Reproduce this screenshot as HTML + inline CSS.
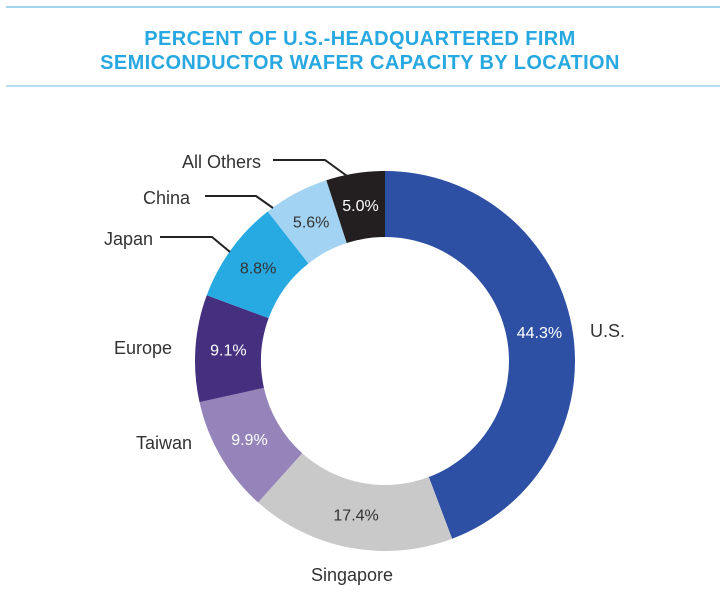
<!DOCTYPE html>
<html><head><meta charset="utf-8"><style>
body{margin:0;background:#fff;width:726px;height:600px;overflow:hidden;font-family:"Liberation Sans",sans-serif}
</style></head><body>
<svg width="726" height="600">
<line x1="6" y1="7" x2="720" y2="7" stroke="#6ab8e6" stroke-width="1.2"/>
<line x1="6" y1="86" x2="720" y2="86" stroke="#9fd3f2" stroke-width="1.5"/>
<text x="360" y="45" text-anchor="middle" font-size="20" font-weight="bold" fill="#27a8e0" letter-spacing="0.4">PERCENT OF U.S.-HEADQUARTERED FIRM</text>
<text x="360" y="69" text-anchor="middle" font-size="20" font-weight="bold" fill="#27a8e0" letter-spacing="0.4">SEMICONDUCTOR WAFER CAPACITY BY LOCATION</text>
<g id="slices"></g>
<g id="leaders" fill="none" stroke="#222" stroke-width="2">
<polyline points="273,160 325,160 347,176"/>
<polyline points="205,196 256,196 273,208"/>
<polyline points="160,237 212,237 230,252"/>
</g>
</svg>
<script>
const categories=["U.S.","Singapore","Taiwan","Europe","Japan","China","All Others"];
const values=[44.3,17.4,9.9,9.1,8.8,5.6,5.0];
const valueLabels=["44.3%","17.4%","9.9%","9.1%","8.8%","5.6%","5.0%"];
const colors=["#2e50a4","#c9c9ca","#9484b9","#45307f","#27a9e1","#a2d3f2","#231f20"];
const textColors=["#fff","#333","#fff","#fff","#333","#333","#fff"];
const outerLabels=[[590,337,"start"],[352,581,"middle"],[192,449,"end"],[172,354,"end"],[153,245,"end"],[190,204,"end"],[261,168,"end"]];
const cx=385,cy=361,R=190,r=124;
const svg=document.querySelector('svg'),g=document.getElementById('slices');
const NS="http://www.w3.org/2000/svg";
const total=values.reduce((a,b)=>a+b,0);
function pt(a,rad){return [cx+rad*Math.sin(a),cy-rad*Math.cos(a)];}
let acc=0;
values.forEach((v,i)=>{
 const a0=acc/total*2*Math.PI;acc+=v;const a1=acc/total*2*Math.PI;
 const lg=(a1-a0)>Math.PI?1:0;
 const [x0,y0]=pt(a0,R),[x1,y1]=pt(a1,R),[x2,y2]=pt(a1,r),[x3,y3]=pt(a0,r);
 const p=document.createElementNS(NS,'path');
 p.setAttribute('d',`M${x0},${y0}A${R},${R} 0 ${lg} 1 ${x1},${y1}L${x2},${y2}A${r},${r} 0 ${lg} 0 ${x3},${y3}Z`);
 p.setAttribute('fill',colors[i]);
 
 
 g.appendChild(p);
 const [tx,ty]=pt((a0+a1)/2,(R+r)/2);
 const t=document.createElementNS(NS,'text');
 t.setAttribute('x',tx);t.setAttribute('y',ty+5);t.setAttribute('text-anchor','middle');
 t.setAttribute('font-size','16');t.setAttribute('fill',textColors[i]);
 t.textContent=valueLabels[i];
 
 
 svg.appendChild(t);
 const o=document.createElementNS(NS,'text');
 o.setAttribute('x',outerLabels[i][0]);o.setAttribute('y',outerLabels[i][1]);o.setAttribute('text-anchor',outerLabels[i][2]);
 o.setAttribute('font-size','18');o.setAttribute('fill','#333');
 o.textContent=categories[i];
 
 
 svg.appendChild(o);
});
</script>
</body></html>
